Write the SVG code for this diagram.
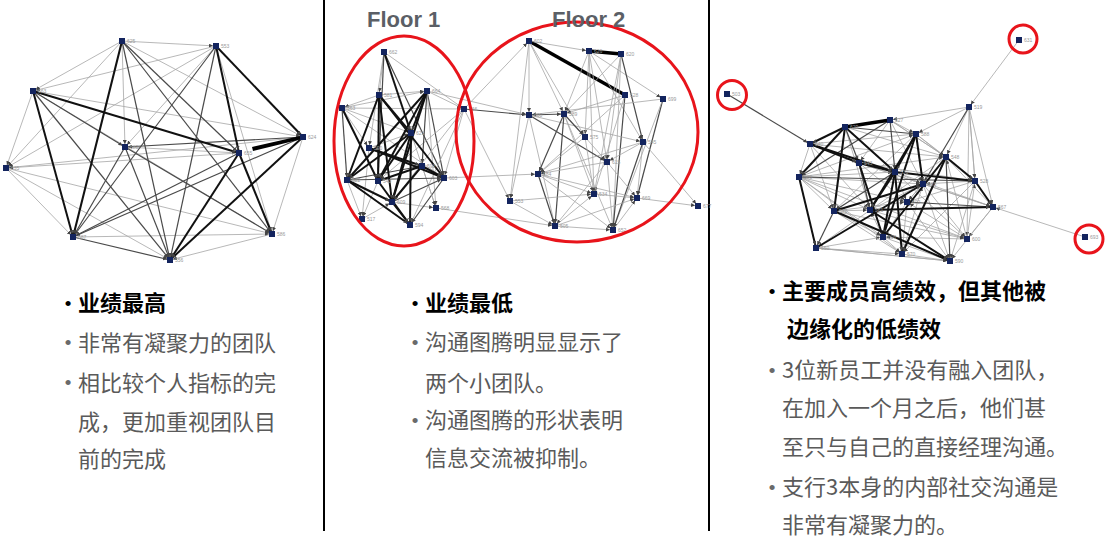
<svg xmlns="http://www.w3.org/2000/svg" width="1109" height="541" viewBox="0 0 1109 541">
<style>
.t{stroke:#a6a6a6;stroke-width:0.8;fill:none;marker-end:url(#ar)}
.m{stroke:#4a4a4a;stroke-width:1.2;fill:none;marker-end:url(#ar)}
.k{stroke:#111;stroke-width:2;fill:none;marker-end:url(#ar)}
.x{stroke:#000;stroke-width:3.5;fill:none}
.nd rect{fill:#13245e}
.nd text{font-family:"Liberation Sans",Arial,sans-serif;font-size:5px;fill:#9a9a9a}
.ring{fill:none;stroke:#e8141b;stroke-width:3}
.div{stroke:#000;stroke-width:2}
.fl{font-family:"Liberation Sans",Arial,sans-serif;font-size:22px;font-weight:bold;fill:#5b5f66}
.hb{font-family:"Noto Sans CJK SC",sans-serif;font-size:22px;font-weight:bold;fill:#000}
.tx{font-family:"Noto Sans CJK SC",sans-serif;font-size:22px;fill:#5a5a5a}
.bb{font-family:"Liberation Sans",Arial,sans-serif;font-size:19px;fill:#000;text-anchor:middle}
.bg{font-family:"Liberation Sans",Arial,sans-serif;font-size:19px;fill:#6a6a6a;text-anchor:middle}
</style>
<defs>
<marker id="ar" markerUnits="userSpaceOnUse" markerWidth="5" markerHeight="4" refX="7" refY="2" orient="auto">
<path d="M0,0 L4,2 L0,4 z" fill="#444"/>
</marker>
</defs>
<rect width="1109" height="541" fill="#fff"/>

<g id="dividers">
<line class="div" x1="324" y1="0" x2="324" y2="531"/>
<line class="div" x1="709" y1="0" x2="709" y2="531"/>
</g>

<!-- LEFT NETWORK -->
<g id="left-connectors">
<line class="t" x1="122" y1="41" x2="216" y2="46"/>
<line class="t" x1="122" y1="41" x2="33" y2="91"/>
<line class="t" x1="122" y1="41" x2="6" y2="168"/>
<line class="t" x1="122" y1="41" x2="125" y2="147"/>
<line class="t" x1="122" y1="41" x2="303" y2="137"/>
<line class="t" x1="216" y1="46" x2="33" y2="91"/>
<line class="t" x1="216" y1="46" x2="6" y2="168"/>
<line class="t" x1="216" y1="46" x2="272" y2="234"/>
<line class="t" x1="216" y1="46" x2="125" y2="147"/>
<line class="t" x1="33" y1="91" x2="6" y2="168"/>
<line class="t" x1="33" y1="91" x2="303" y2="137"/>
<line class="t" x1="303" y1="137" x2="272" y2="234"/>
<line class="t" x1="303" y1="137" x2="6" y2="168"/>
<line class="t" x1="125" y1="147" x2="239" y2="153"/>
<line class="t" x1="239" y1="153" x2="6" y2="168"/>
<line class="t" x1="6" y1="168" x2="73" y2="237"/>
<line class="t" x1="6" y1="168" x2="170" y2="260"/>
<line class="t" x1="6" y1="168" x2="272" y2="234"/>
<line class="t" x1="73" y1="237" x2="272" y2="234"/>
<line class="t" x1="272" y1="234" x2="170" y2="260"/>
<line class="t" x1="33" y1="91" x2="272" y2="234"/>
<line class="m" x1="122" y1="41" x2="170" y2="260"/>
<line class="m" x1="122" y1="41" x2="239" y2="153"/>
<line class="m" x1="122" y1="41" x2="272" y2="234"/>
<line class="m" x1="216" y1="46" x2="73" y2="237"/>
<line class="m" x1="216" y1="46" x2="170" y2="260"/>
<line class="m" x1="33" y1="91" x2="170" y2="260"/>
<line class="m" x1="33" y1="91" x2="125" y2="147"/>
<line class="m" x1="303" y1="137" x2="125" y2="147"/>
<line class="m" x1="303" y1="137" x2="73" y2="237"/>
<line class="m" x1="239" y1="153" x2="73" y2="237"/>
<line class="m" x1="125" y1="147" x2="73" y2="237"/>
<line class="m" x1="125" y1="147" x2="170" y2="260"/>
<line class="m" x1="125" y1="147" x2="272" y2="234"/>
<line class="m" x1="73" y1="237" x2="170" y2="260"/>
<line class="k" x1="122" y1="41" x2="73" y2="237"/>
<line class="k" x1="216" y1="46" x2="303" y2="137"/>
<line class="k" x1="216" y1="46" x2="239" y2="153"/>
<line class="k" x1="33" y1="91" x2="73" y2="237"/>
<line class="k" x1="33" y1="91" x2="239" y2="153"/>
<line class="k" x1="303" y1="137" x2="170" y2="260"/>
<line class="k" x1="239" y1="153" x2="170" y2="260"/>
<line class="k" x1="239" y1="153" x2="272" y2="234"/>
<polygon points="300,136 302,139 253,151 252,147" fill="#000"/>
</g>
<g id="l-625" class="nd"><rect x="119" y="38" width="6" height="6"/><text x="127" y="43">625</text></g>
<g id="l-553" class="nd"><rect x="213" y="43" width="6" height="6"/><text x="221" y="48">553</text></g>
<g id="l-663" class="nd"><rect x="30" y="88" width="6" height="6"/><text x="38" y="93">663</text></g>
<g id="l-624" class="nd"><rect x="300" y="134" width="6" height="6"/><text x="308" y="139">624</text></g>
<g id="l-680" class="nd"><rect x="122" y="144" width="6" height="6"/><text x="130" y="149">680</text></g>
<g id="l-655" class="nd"><rect x="236" y="150" width="6" height="6"/><text x="244" y="155">655</text></g>
<g id="l-635" class="nd"><rect x="3" y="165" width="6" height="6"/><text x="11" y="170">635</text></g>
<g id="l-587" class="nd"><rect x="70" y="234" width="6" height="6"/><text x="78" y="239">587</text></g>
<g id="l-586" class="nd"><rect x="269" y="231" width="6" height="6"/><text x="277" y="236">586</text></g>
<g id="l-556" class="nd"><rect x="167" y="257" width="6" height="6"/><text x="175" y="262">556</text></g>

<!-- MIDDLE NETWORK -->
<g id="middle-connectors">
<line class="t" x1="384" y1="52" x2="379" y2="95"/>
<line class="t" x1="384" y1="52" x2="369" y2="148"/>
<line class="t" x1="384" y1="52" x2="464" y2="109"/>
<line class="m" x1="384" y1="52" x2="444" y2="178"/>
<line class="t" x1="379" y1="95" x2="427" y2="91"/>
<line class="t" x1="379" y1="95" x2="342" y2="108"/>
<line class="t" x1="342" y1="108" x2="427" y2="91"/>
<line class="t" x1="342" y1="108" x2="369" y2="148"/>
<line class="t" x1="342" y1="108" x2="444" y2="178"/>
<line class="m" x1="342" y1="108" x2="347" y2="180"/>
<line class="t" x1="342" y1="108" x2="411" y2="133"/>
<line class="t" x1="342" y1="108" x2="464" y2="109"/>
<line class="t" x1="427" y1="91" x2="464" y2="109"/>
<line class="m" x1="427" y1="91" x2="444" y2="178"/>
<line class="t" x1="427" y1="91" x2="436" y2="208"/>
<line class="t" x1="464" y1="109" x2="444" y2="178"/>
<line class="t" x1="464" y1="109" x2="392" y2="202"/>
<line class="t" x1="464" y1="109" x2="378" y2="181"/>
<line class="t" x1="464" y1="109" x2="410" y2="225"/>
<line class="t" x1="411" y1="133" x2="436" y2="208"/>
<line class="t" x1="369" y1="148" x2="362" y2="219"/>
<line class="t" x1="347" y1="180" x2="362" y2="219"/>
<line class="t" x1="378" y1="181" x2="362" y2="219"/>
<line class="t" x1="392" y1="202" x2="436" y2="208"/>
<line class="t" x1="362" y1="219" x2="392" y2="202"/>
<line class="m" x1="444" y1="178" x2="410" y2="225"/>
<line class="t" x1="422" y1="166" x2="436" y2="208"/>
<line class="t" x1="369" y1="148" x2="411" y2="133"/>
<line class="m" x1="347" y1="180" x2="444" y2="178"/>
<line class="m" x1="347" y1="180" x2="422" y2="166"/>
<line class="m" x1="384" y1="52" x2="378" y2="181"/>
<line class="m" x1="427" y1="91" x2="422" y2="166"/>
<line class="m" x1="392" y1="202" x2="444" y2="178"/>
<line class="k" x1="379" y1="95" x2="444" y2="178"/>
<line class="k" x1="379" y1="95" x2="411" y2="133"/>
<line class="k" x1="379" y1="95" x2="378" y2="181"/>
<line class="k" x1="379" y1="95" x2="347" y2="180"/>
<line class="k" x1="379" y1="95" x2="392" y2="202"/>
<line class="k" x1="427" y1="91" x2="378" y2="181"/>
<line class="k" x1="427" y1="91" x2="392" y2="202"/>
<line class="k" x1="427" y1="91" x2="347" y2="180"/>
<line class="k" x1="411" y1="133" x2="378" y2="181"/>
<line class="k" x1="411" y1="133" x2="392" y2="202"/>
<line class="k" x1="411" y1="133" x2="347" y2="180"/>
<line class="k" x1="411" y1="133" x2="410" y2="225"/>
<line class="k" x1="369" y1="148" x2="422" y2="166"/>
<line class="k" x1="369" y1="148" x2="444" y2="178"/>
<line class="k" x1="378" y1="181" x2="410" y2="225"/>
<line class="k" x1="392" y1="202" x2="410" y2="225"/>
<line class="k" x1="347" y1="180" x2="410" y2="225"/>
<line class="k" x1="347" y1="180" x2="392" y2="202"/>
<line class="k" x1="422" y1="166" x2="392" y2="202"/>
<line class="k" x1="422" y1="166" x2="378" y2="181"/>
<line class="k" x1="427" y1="91" x2="411" y2="133"/>
<line class="k" x1="384" y1="52" x2="411" y2="133"/>
<line class="k" x1="342" y1="108" x2="378" y2="181"/>
<line class="k" x1="422" y1="166" x2="444" y2="178"/>
<line class="m" x1="464" y1="109" x2="529" y2="115"/>
<line class="t" x1="427" y1="91" x2="529" y2="115"/>
<line class="t" x1="464" y1="109" x2="529" y2="41"/>
<line class="t" x1="464" y1="109" x2="510" y2="201"/>
<line class="t" x1="436" y1="208" x2="555" y2="226"/>
<line class="t" x1="444" y1="178" x2="538" y2="174"/>
<line class="x" x1="529" y1="41" x2="625" y2="95"/>
<line class="x" x1="589" y1="51" x2="621" y2="54"/>
<line class="t" x1="529" y1="41" x2="589" y2="51"/>
<line class="t" x1="529" y1="41" x2="529" y2="115"/>
<line class="t" x1="529" y1="41" x2="564" y2="114"/>
<line class="t" x1="529" y1="41" x2="510" y2="201"/>
<line class="t" x1="529" y1="41" x2="585" y2="137"/>
<line class="t" x1="589" y1="51" x2="564" y2="114"/>
<line class="t" x1="589" y1="51" x2="585" y2="137"/>
<line class="t" x1="589" y1="51" x2="607" y2="162"/>
<line class="t" x1="589" y1="51" x2="594" y2="194"/>
<line class="t" x1="589" y1="51" x2="663" y2="99"/>
<line class="t" x1="589" y1="51" x2="643" y2="142"/>
<line class="t" x1="621" y1="54" x2="564" y2="114"/>
<line class="t" x1="621" y1="54" x2="607" y2="162"/>
<line class="t" x1="621" y1="54" x2="594" y2="194"/>
<line class="m" x1="621" y1="54" x2="643" y2="142"/>
<line class="t" x1="621" y1="54" x2="613" y2="230"/>
<line class="t" x1="625" y1="95" x2="564" y2="114"/>
<line class="t" x1="625" y1="95" x2="538" y2="174"/>
<line class="m" x1="625" y1="95" x2="613" y2="230"/>
<line class="t" x1="625" y1="95" x2="594" y2="194"/>
<line class="t" x1="663" y1="99" x2="529" y2="115"/>
<line class="m" x1="663" y1="99" x2="637" y2="198"/>
<line class="t" x1="663" y1="99" x2="613" y2="230"/>
<line class="m" x1="529" y1="115" x2="564" y2="114"/>
<line class="m" x1="529" y1="115" x2="607" y2="162"/>
<line class="t" x1="529" y1="115" x2="510" y2="201"/>
<line class="t" x1="529" y1="115" x2="555" y2="226"/>
<line class="t" x1="529" y1="115" x2="643" y2="142"/>
<line class="m" x1="564" y1="114" x2="555" y2="226"/>
<line class="m" x1="564" y1="114" x2="585" y2="137"/>
<line class="m" x1="564" y1="114" x2="538" y2="174"/>
<line class="t" x1="564" y1="114" x2="594" y2="194"/>
<line class="t" x1="564" y1="114" x2="613" y2="230"/>
<line class="t" x1="585" y1="137" x2="607" y2="162"/>
<line class="t" x1="585" y1="137" x2="594" y2="194"/>
<line class="t" x1="585" y1="137" x2="538" y2="174"/>
<line class="t" x1="643" y1="142" x2="607" y2="162"/>
<line class="t" x1="643" y1="142" x2="637" y2="198"/>
<line class="m" x1="643" y1="142" x2="613" y2="230"/>
<line class="t" x1="643" y1="142" x2="698" y2="206"/>
<line class="t" x1="643" y1="142" x2="538" y2="174"/>
<line class="t" x1="607" y1="162" x2="637" y2="198"/>
<line class="t" x1="607" y1="162" x2="555" y2="226"/>
<line class="t" x1="607" y1="162" x2="613" y2="230"/>
<line class="t" x1="607" y1="162" x2="538" y2="174"/>
<line class="m" x1="538" y1="174" x2="555" y2="226"/>
<line class="t" x1="538" y1="174" x2="594" y2="194"/>
<line class="t" x1="538" y1="174" x2="637" y2="198"/>
<line class="t" x1="538" y1="174" x2="613" y2="230"/>
<line class="t" x1="594" y1="194" x2="637" y2="198"/>
<line class="t" x1="510" y1="201" x2="555" y2="226"/>
<line class="t" x1="510" y1="201" x2="594" y2="194"/>
<line class="t" x1="555" y1="226" x2="613" y2="230"/>
<line class="t" x1="555" y1="226" x2="637" y2="198"/>
<line class="t" x1="637" y1="198" x2="698" y2="206"/>
<line class="t" x1="613" y1="230" x2="637" y2="198"/>
<line class="t" x1="555" y1="226" x2="594" y2="194"/>
</g>
<g id="m-662" class="nd"><rect x="381" y="49" width="6" height="6"/><text x="389" y="54">662</text></g>
<g id="m-581" class="nd"><rect x="376" y="92" width="6" height="6"/><text x="384" y="97">581</text></g>
<g id="m-664" class="nd"><rect x="424" y="88" width="6" height="6"/><text x="432" y="93">664</text></g>
<g id="m-563" class="nd"><rect x="339" y="105" width="6" height="6"/><text x="347" y="110">563</text></g>
<g id="m-566" class="nd"><rect x="461" y="106" width="6" height="6"/><text x="469" y="111">566</text></g>
<g id="m-621" class="nd"><rect x="408" y="130" width="6" height="6"/><text x="416" y="135">621</text></g>
<g id="m-590" class="nd"><rect x="366" y="145" width="6" height="6"/><text x="374" y="150">590</text></g>
<g id="m-593" class="nd"><rect x="419" y="163" width="6" height="6"/><text x="427" y="168">593</text></g>
<g id="m-603" class="nd"><rect x="441" y="175" width="6" height="6"/><text x="449" y="180">603</text></g>
<g id="m-522" class="nd"><rect x="344" y="177" width="6" height="6"/><text x="352" y="182">522</text></g>
<g id="m-540" class="nd"><rect x="375" y="178" width="6" height="6"/><text x="383" y="183">540</text></g>
<g id="m-609" class="nd"><rect x="389" y="199" width="6" height="6"/><text x="397" y="204">609</text></g>
<g id="m-568" class="nd"><rect x="433" y="205" width="6" height="6"/><text x="441" y="210">568</text></g>
<g id="m-517" class="nd"><rect x="359" y="216" width="6" height="6"/><text x="367" y="221">517</text></g>
<g id="m-594" class="nd"><rect x="407" y="222" width="6" height="6"/><text x="415" y="227">594</text></g>
<g id="m-602" class="nd"><rect x="526" y="38" width="6" height="6"/><text x="534" y="43">602</text></g>
<g id="m-626" class="nd"><rect x="586" y="48" width="6" height="6"/><text x="594" y="53">626</text></g>
<g id="m-620" class="nd"><rect x="618" y="51" width="6" height="6"/><text x="626" y="56">620</text></g>
<g id="m-528" class="nd"><rect x="622" y="92" width="6" height="6"/><text x="630" y="97">528</text></g>
<g id="m-699" class="nd"><rect x="660" y="96" width="6" height="6"/><text x="668" y="101">699</text></g>
<g id="m-600" class="nd"><rect x="526" y="112" width="6" height="6"/><text x="534" y="117">600</text></g>
<g id="m-589" class="nd"><rect x="561" y="111" width="6" height="6"/><text x="569" y="116">589</text></g>
<g id="m-575" class="nd"><rect x="582" y="134" width="6" height="6"/><text x="590" y="139">575</text></g>
<g id="m-545" class="nd"><rect x="640" y="139" width="6" height="6"/><text x="648" y="144">545</text></g>
<g id="m-615" class="nd"><rect x="604" y="159" width="6" height="6"/><text x="612" y="164">615</text></g>
<g id="m-584" class="nd"><rect x="535" y="171" width="6" height="6"/><text x="543" y="176">584</text></g>
<g id="m-534" class="nd"><rect x="591" y="191" width="6" height="6"/><text x="599" y="196">534</text></g>
<g id="m-669" class="nd"><rect x="634" y="195" width="6" height="6"/><text x="642" y="200">669</text></g>
<g id="m-553" class="nd"><rect x="507" y="198" width="6" height="6"/><text x="515" y="203">553</text></g>
<g id="m-677" class="nd"><rect x="695" y="203" width="6" height="6"/><text x="703" y="208">677</text></g>
<g id="m-505" class="nd"><rect x="552" y="223" width="6" height="6"/><text x="560" y="228">505</text></g>
<g id="m-652" class="nd"><rect x="610" y="227" width="6" height="6"/><text x="618" y="232">652</text></g>
<g id="floor-rings">
<ellipse class="ring" cx="404" cy="141" rx="70" ry="105"/>
<ellipse class="ring" cx="577" cy="132" rx="121" ry="110"/>
</g>
<text class="fl" x="367" y="27">Floor 1</text>
<text class="fl" x="552" y="27">Floor 2</text>

<!-- RIGHT NETWORK -->
<g id="right-connectors">
<line class="t" x1="1019" y1="40" x2="969" y2="107"/>
<line class="m" x1="727" y1="94" x2="810" y2="144"/>
<line class="t" x1="1085" y1="237" x2="993" y2="207"/>
<line class="t" x1="969" y1="107" x2="890" y2="120"/>
<line class="t" x1="969" y1="107" x2="946" y2="157"/>
<line class="t" x1="969" y1="107" x2="975" y2="181"/>
<line class="t" x1="969" y1="107" x2="993" y2="207"/>
<line class="t" x1="969" y1="107" x2="916" y2="134"/>
<line class="m" x1="969" y1="107" x2="923" y2="184"/>
<line class="t" x1="969" y1="107" x2="967" y2="239"/>
<line class="t" x1="890" y1="120" x2="916" y2="134"/>
<line class="t" x1="890" y1="120" x2="946" y2="157"/>
<line class="t" x1="916" y1="134" x2="946" y2="157"/>
<line class="t" x1="946" y1="157" x2="993" y2="207"/>
<line class="t" x1="799" y1="177" x2="923" y2="184"/>
<line class="t" x1="799" y1="177" x2="834" y2="211"/>
<line class="t" x1="799" y1="177" x2="870" y2="210"/>
<line class="t" x1="816" y1="248" x2="902" y2="254"/>
<line class="t" x1="816" y1="248" x2="883" y2="237"/>
<line class="t" x1="816" y1="248" x2="950" y2="261"/>
<line class="t" x1="902" y1="254" x2="950" y2="261"/>
<line class="t" x1="967" y1="239" x2="975" y2="181"/>
<line class="t" x1="967" y1="239" x2="946" y2="157"/>
<line class="t" x1="967" y1="239" x2="883" y2="237"/>
<line class="t" x1="967" y1="239" x2="907" y2="202"/>
<line class="t" x1="902" y1="254" x2="923" y2="184"/>
<line class="t" x1="883" y1="237" x2="870" y2="210"/>
<line class="t" x1="810" y1="144" x2="834" y2="211"/>
<line class="t" x1="810" y1="144" x2="799" y2="177"/>
<line class="t" x1="845" y1="127" x2="946" y2="157"/>
<line class="t" x1="890" y1="120" x2="859" y2="163"/>
<line class="t" x1="890" y1="120" x2="923" y2="184"/>
<line class="t" x1="859" y1="163" x2="923" y2="184"/>
<line class="t" x1="799" y1="177" x2="967" y2="239"/>
<line class="t" x1="799" y1="177" x2="895" y2="172"/>
<line class="t" x1="834" y1="211" x2="902" y2="254"/>
<line class="t" x1="834" y1="211" x2="883" y2="237"/>
<line class="t" x1="834" y1="211" x2="967" y2="239"/>
<line class="t" x1="870" y1="210" x2="950" y2="261"/>
<line class="t" x1="907" y1="202" x2="950" y2="261"/>
<line class="t" x1="975" y1="181" x2="923" y2="184"/>
<line class="t" x1="975" y1="181" x2="907" y2="202"/>
<line class="t" x1="895" y1="172" x2="993" y2="207"/>
<line class="t" x1="923" y1="184" x2="993" y2="207"/>
<line class="t" x1="916" y1="134" x2="975" y2="181"/>
<line class="t" x1="946" y1="157" x2="816" y2="248"/>
<line class="t" x1="916" y1="134" x2="834" y2="211"/>
<line class="t" x1="993" y1="207" x2="967" y2="239"/>
<line class="t" x1="799" y1="177" x2="916" y2="134"/>
<line class="t" x1="799" y1="177" x2="946" y2="157"/>
<line class="t" x1="799" y1="177" x2="907" y2="202"/>
<line class="t" x1="799" y1="177" x2="883" y2="237"/>
<line class="t" x1="799" y1="177" x2="902" y2="254"/>
<line class="t" x1="810" y1="144" x2="916" y2="134"/>
<line class="t" x1="810" y1="144" x2="946" y2="157"/>
<line class="t" x1="810" y1="144" x2="870" y2="210"/>
<line class="t" x1="845" y1="127" x2="870" y2="210"/>
<line class="t" x1="890" y1="120" x2="946" y2="157"/>
<line class="t" x1="859" y1="163" x2="907" y2="202"/>
<line class="t" x1="859" y1="163" x2="975" y2="181"/>
<line class="t" x1="859" y1="163" x2="993" y2="207"/>
<line class="t" x1="895" y1="172" x2="907" y2="202"/>
<line class="t" x1="895" y1="172" x2="923" y2="184"/>
<line class="t" x1="895" y1="172" x2="967" y2="239"/>
<line class="t" x1="923" y1="184" x2="907" y2="202"/>
<line class="t" x1="923" y1="184" x2="967" y2="239"/>
<line class="t" x1="923" y1="184" x2="950" y2="261"/>
<line class="t" x1="907" y1="202" x2="902" y2="254"/>
<line class="t" x1="907" y1="202" x2="883" y2="237"/>
<line class="t" x1="834" y1="211" x2="870" y2="210"/>
<line class="t" x1="834" y1="211" x2="907" y2="202"/>
<line class="t" x1="870" y1="210" x2="923" y2="184"/>
<line class="t" x1="870" y1="210" x2="967" y2="239"/>
<line class="t" x1="883" y1="237" x2="950" y2="261"/>
<line class="t" x1="883" y1="237" x2="902" y2="254"/>
<line class="t" x1="816" y1="248" x2="950" y2="261"/>
<line class="t" x1="946" y1="157" x2="907" y2="202"/>
<line class="t" x1="975" y1="181" x2="950" y2="261"/>
<line class="t" x1="975" y1="181" x2="902" y2="254"/>
<line class="t" x1="993" y1="207" x2="950" y2="261"/>
<line class="t" x1="969" y1="107" x2="975" y2="181"/>
<line class="m" x1="799" y1="177" x2="975" y2="181"/>
<line class="m" x1="845" y1="127" x2="859" y2="163"/>
<line class="m" x1="890" y1="120" x2="895" y2="172"/>
<line class="m" x1="907" y1="202" x2="993" y2="207"/>
<line class="m" x1="895" y1="172" x2="834" y2="211"/>
<line class="m" x1="890" y1="120" x2="799" y2="177"/>
<line class="m" x1="859" y1="163" x2="870" y2="210"/>
<line class="m" x1="834" y1="211" x2="816" y2="248"/>
<line class="m" x1="845" y1="127" x2="916" y2="134"/>
<line class="m" x1="946" y1="157" x2="950" y2="261"/>
<line class="x" x1="845" y1="127" x2="890" y2="120"/>
<line class="k" x1="845" y1="127" x2="810" y2="144"/>
<line class="k" x1="845" y1="127" x2="895" y2="172"/>
<line class="k" x1="845" y1="127" x2="834" y2="211"/>
<line class="k" x1="845" y1="127" x2="799" y2="177"/>
<line class="k" x1="799" y1="177" x2="816" y2="248"/>
<line class="k" x1="916" y1="134" x2="895" y2="172"/>
<line class="k" x1="916" y1="134" x2="870" y2="210"/>
<line class="k" x1="916" y1="134" x2="923" y2="184"/>
<line class="k" x1="916" y1="134" x2="883" y2="237"/>
<line class="k" x1="946" y1="157" x2="883" y2="237"/>
<line class="k" x1="946" y1="157" x2="902" y2="254"/>
<line class="k" x1="946" y1="157" x2="975" y2="181"/>
<line class="k" x1="810" y1="144" x2="895" y2="172"/>
<line class="k" x1="810" y1="144" x2="859" y2="163"/>
<line class="k" x1="859" y1="163" x2="895" y2="172"/>
<line class="k" x1="859" y1="163" x2="883" y2="237"/>
<line class="k" x1="834" y1="211" x2="923" y2="184"/>
<line class="k" x1="870" y1="210" x2="993" y2="207"/>
<line class="k" x1="870" y1="210" x2="950" y2="261"/>
<line class="k" x1="895" y1="172" x2="902" y2="254"/>
<line class="k" x1="895" y1="172" x2="883" y2="237"/>
<line class="k" x1="816" y1="248" x2="923" y2="184"/>
<line class="k" x1="975" y1="181" x2="993" y2="207"/>
<line class="k" x1="834" y1="211" x2="950" y2="261"/>
<line class="k" x1="895" y1="172" x2="870" y2="210"/>
<line class="k" x1="895" y1="172" x2="975" y2="181"/>
</g>
<g id="r-631" class="nd"><rect x="1016" y="37" width="6" height="6"/><text x="1024" y="42">631</text></g>
<g id="r-503" class="nd"><rect x="724" y="91" width="6" height="6"/><text x="732" y="96">503</text></g>
<g id="r-519" class="nd"><rect x="966" y="104" width="6" height="6"/><text x="974" y="109">519</text></g>
<g id="r-527" class="nd"><rect x="887" y="117" width="6" height="6"/><text x="895" y="122">527</text></g>
<g id="r-629" class="nd"><rect x="842" y="124" width="6" height="6"/><text x="850" y="129">629</text></g>
<g id="r-588" class="nd"><rect x="913" y="131" width="6" height="6"/><text x="921" y="136">588</text></g>
<g id="r-540" class="nd"><rect x="807" y="141" width="6" height="6"/><text x="815" y="146">540</text></g>
<g id="r-548" class="nd"><rect x="943" y="154" width="6" height="6"/><text x="951" y="159">548</text></g>
<g id="r-543" class="nd"><rect x="856" y="160" width="6" height="6"/><text x="864" y="165">543</text></g>
<g id="r-530" class="nd"><rect x="892" y="169" width="6" height="6"/><text x="900" y="174">530</text></g>
<g id="r-580" class="nd"><rect x="796" y="174" width="6" height="6"/><text x="804" y="179">580</text></g>
<g id="r-528" class="nd"><rect x="972" y="178" width="6" height="6"/><text x="980" y="183">528</text></g>
<g id="r-585" class="nd"><rect x="920" y="181" width="6" height="6"/><text x="928" y="186">585</text></g>
<g id="r-602" class="nd"><rect x="904" y="199" width="6" height="6"/><text x="912" y="204">602</text></g>
<g id="r-567" class="nd"><rect x="990" y="204" width="6" height="6"/><text x="998" y="209">567</text></g>
<g id="r-542" class="nd"><rect x="831" y="208" width="6" height="6"/><text x="839" y="213">542</text></g>
<g id="r-561" class="nd"><rect x="867" y="207" width="6" height="6"/><text x="875" y="212">561</text></g>
<g id="r-693" class="nd"><rect x="1082" y="234" width="6" height="6"/><text x="1090" y="239">693</text></g>
<g id="r-600" class="nd"><rect x="964" y="236" width="6" height="6"/><text x="972" y="241">600</text></g>
<g id="r-606" class="nd"><rect x="880" y="234" width="6" height="6"/><text x="888" y="239">606</text></g>
<g id="r-550" class="nd"><rect x="813" y="245" width="6" height="6"/><text x="821" y="250">550</text></g>
<g id="r-570" class="nd"><rect x="899" y="251" width="6" height="6"/><text x="907" y="256">570</text></g>
<g id="r-590" class="nd"><rect x="947" y="258" width="6" height="6"/><text x="955" y="263">590</text></g>
<g id="outlier-rings">
<circle class="ring" cx="1023" cy="39" r="14"/>
<circle class="ring" cx="732" cy="95" r="14.5"/>
<circle class="ring" cx="1089" cy="239" r="14"/>
</g>

<!-- TEXT -->
<g id="text-left">
<text class="bb" x="68" y="310">•</text>
<text class="hb" x="78" y="311">业绩最高</text>
<text class="bg" x="68" y="349">•</text>
<text class="tx" x="78" y="351">非常有凝聚力的团队</text>
<text class="bg" x="68" y="389">•</text>
<text class="tx" x="78" y="391">相比较个人指标的完</text>
<text class="tx" x="78" y="430">成，更加重视团队目</text>
<text class="tx" x="78" y="467">前的完成</text>
</g>
<g id="text-middle">
<text class="bb" x="415" y="310">•</text>
<text class="hb" x="425" y="311">业绩最低</text>
<text class="bg" x="415" y="349">•</text>
<text class="tx" x="425" y="350">沟通图腾明显显示了</text>
<text class="tx" x="425" y="391">两个小团队。</text>
<text class="bg" x="415" y="427">•</text>
<text class="tx" x="425" y="428">沟通图腾的形状表明</text>
<text class="tx" x="425" y="466">信息交流被抑制。</text>
</g>
<g id="text-right">
<text class="bb" x="772" y="298">•</text>
<text class="hb" x="782" y="299">主要成员高绩效，但其他被</text>
<text class="hb" x="787" y="337">边缘化的低绩效</text>
<text class="bg" x="772" y="377">•</text>
<text class="tx" x="782" y="378">3位新员工并没有融入团队，</text>
<text class="tx" x="782" y="416">在加入一个月之后，他们甚</text>
<text class="tx" x="782" y="455">至只与自己的直接经理沟通。</text>
<text class="bg" x="772" y="494">•</text>
<text class="tx" x="782" y="495">支行3本身的内部社交沟通是</text>
<text class="tx" x="782" y="533">非常有凝聚力的。</text>
</g>
</svg>
